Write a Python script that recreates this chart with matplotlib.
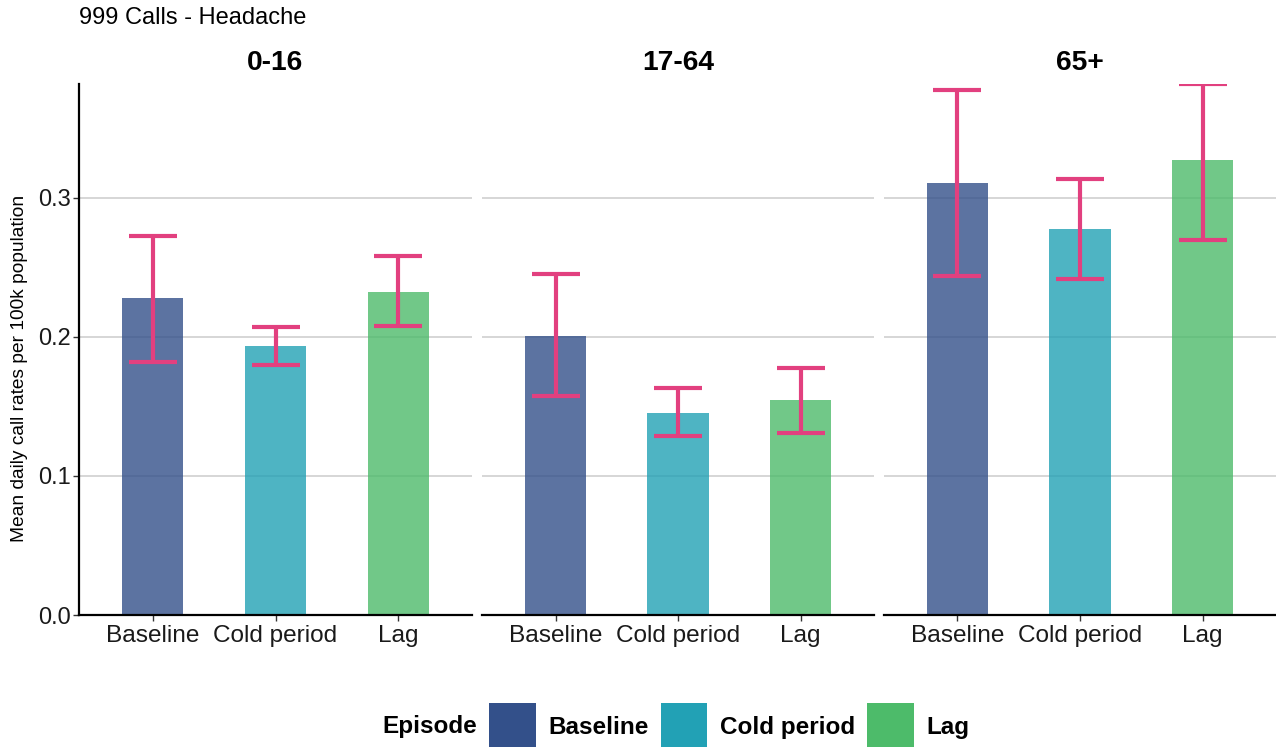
import matplotlib
matplotlib.use("Agg")
import matplotlib.pyplot as plt
from matplotlib.patches import Patch
import numpy as np

plt.rcParams['font.family'] = ['Liberation Sans', 'DejaVu Sans']

title = "999 Calls - Headache"
ylabel = "Mean daily call rates per 100k population"
age_groups = ["0-16", "17-64", "65+"]
episodes = ["Baseline", "Cold period", "Lag"]
colors = ["#33508A", "#22A1B5", "#4DBB6A"]
err_color = "#E2407F"

# mean values per age group (rows) and episode (cols)
means = [
    [0.228, 0.1935, 0.2325],
    [0.2005, 0.1455, 0.1545],
    [0.311, 0.278, 0.327],
]
lower = [
    [0.182, 0.180, 0.208],
    [0.1575, 0.129, 0.131],
    [0.244, 0.242, 0.270],
]
upper = [
    [0.273, 0.207, 0.258],
    [0.245, 0.163, 0.178],
    [0.378, 0.314, 0.382],
]
yticks = [0.0, 0.1, 0.2, 0.3]

W, H = 1276, 747
fig = plt.figure(figsize=(W / 100, H / 100), dpi=100)

bottom = 1 - 615 / H
top = 1 - 84 / H
panel_px = [(79, 472), (482, 874), (884, 1276)]

x = np.arange(1, len(episodes) + 1)
for i, (l, r) in enumerate(panel_px):
    ax = fig.add_axes([l / W, bottom, (r - l) / W, top - bottom])
    m = np.array(means[i])
    lo = np.array(lower[i])
    up = np.array(upper[i])
    ax.bar(x, m, width=0.5, color=colors, alpha=0.8, zorder=2)
    ax.errorbar(x, m, yerr=[m - lo, up - m], fmt='none', ecolor=err_color,
                elinewidth=3, capsize=17.5, capthick=3, zorder=3)
    ax.set_xlim(0.4, 3.6)
    ax.set_ylim(0, 0.382)
    ax.set_xticks(x)
    ax.set_xticklabels(episodes, fontsize=17.6, color='#1a1a1a')
    ax.set_yticks(yticks)
    ax.yaxis.grid(True, color='#d3d3d3', linewidth=1.3, zorder=0)
    ax.set_axisbelow(True)
    for s in ['top', 'right']:
        ax.spines[s].set_visible(False)
    ax.spines['bottom'].set_linewidth(1.6)
    ax.spines['left'].set_linewidth(1.6)
    ax.tick_params(axis='x', length=4, width=1, color='#333333', pad=3)
    if i == 0:
        ax.set_yticklabels([f"{v:.1f}" for v in yticks], fontsize=17, color='#1a1a1a')
        ax.tick_params(axis='y', length=4, width=1, color='#333333', pad=2)
    else:
        ax.spines['left'].set_visible(False)
        ax.tick_params(axis='y', length=0, labelleft=False)
    ax.set_title(age_groups[i], fontsize=20.3, fontweight='bold', pad=10)

fig.text(20 / W, 1 - 368 / H, ylabel, fontsize=13.8, rotation=90,
         ha='center', va='center')
fig.text(79 / W, 1 - 18 / H, title, fontsize=17, va='center', ha='left')

handles = [Patch(facecolor=c, edgecolor='none') for c in colors]
leg = fig.legend(handles, episodes, ncol=3, loc='center left',
                 bbox_to_anchor=(489 / W, 1 - 727 / H), frameon=False,
                 handlelength=1.93, handleheight=2.6, handletextpad=0.52,
                 columnspacing=0.48, borderpad=0, borderaxespad=0,
                 prop={'size': 17.5, 'weight': 'bold'})
fig.text(477 / W, 1 - 727 / H, "Episode", fontsize=17.5, fontweight='bold',
         ha='right', va='center')

fig.savefig("out.png", dpi=100)
